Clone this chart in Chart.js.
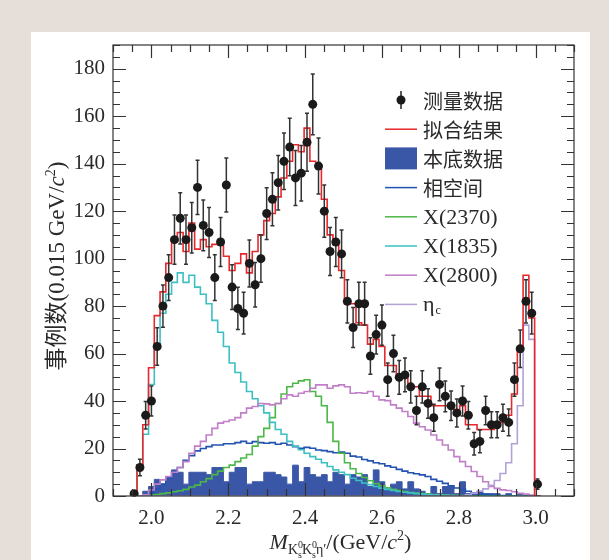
<!DOCTYPE html>
<html>
<head>
<meta charset="utf-8">
<script src="https://cdn.jsdelivr.net/npm/chart.js@4.4.0/dist/chart.umd.min.js"></script>
<style>
  html, body { margin: 0; padding: 0; background: #e6dfd9; }
  #panel { position: absolute; left: 31px; top: 32px; width: 559px; height: 528px; background: #fff; }
  #wrap { position: absolute; left: 0; top: 0; width: 609px; height: 560px; }
</style>
</head>
<body>
<div id="panel"></div>
<div id="wrap"><canvas id="histChart" width="609" height="560"></canvas></div>
<script>
// 0.015 GeV bins, first bin starts at 1.9475
const binStart = 1.9475;
const binWidth = 0.015;

const dataCounts = [
  1, 12, 34, 40, 63, 80, 92, 108, 117, 108,
  113, 130, 114, 111, 92, 107, 131, 88, 79, 77,
  98, 89, 100, 119, 125, 132, 141, 147, 134, 136,
  149, 165, 139, 120, 103, 107, 102, 82, 71, 81,
  81, 59, 68, 72, 49, 60, 50, 51, 46, 36,
  46, 39, 33, 47, 42, 38, 35, 40, 34, 22,
  23, 36, 30, 30, 33, 31, 49, 62, 82, 77,
  5
];
const dataErrors = [
  1, 3.5, 5.8, 6.3, 7.9, 8.9, 9.6, 10.4, 10.8, 10.4,
  10.6, 11.4, 10.7, 10.5, 9.6, 10.3, 11.4, 9.4, 8.9, 8.8,
  9.9, 9.4, 10, 10.9, 11.2, 11.5, 11.9, 12.1, 11.6, 11.7,
  12.2, 12.8, 11.8, 11, 10.1, 10.3, 10.1, 9.1, 8.4, 9,
  9, 7.7, 8.2, 8.5, 7, 7.7, 7.1, 7.1, 6.8, 6,
  6.8, 6.2, 5.7, 6.9, 6.5, 6.2, 5.9, 6.3, 5.8, 4.7,
  4.8, 6, 5.5, 5.5, 5.7, 5.6, 7, 7.9, 9.1, 8.8,
  2.2
];
const fitCounts = [
  0, 13, 30, 54, 76, 86, 98, 107, 111, 103,
  115, 104, 108, 105, 106, 108, 101, 95, 98, 102,
  94, 103, 110, 116, 119, 126, 134, 141, 148, 145,
  155, 141, 139, 125, 110, 106, 95, 81, 81, 73,
  72, 64, 66, 63, 55, 55, 50, 50, 46, 46,
  42, 42, 38, 38, 38, 38, 34, 38, 30, 30,
  28, 28, 28, 30, 31, 34, 43, 63, 93, 75,
  0
];
const bkgCounts = [
  0, 0, 2, 4, 7, 5, 8, 11, 10, 5,
  10, 10, 10, 9, 12, 12, 6, 10, 12, 12,
  5, 6, 6, 10, 10, 9, 8, 5, 13, 6,
  12, 9, 8, 9, 6, 10, 9, 5, 9, 8,
  9, 4, 11, 6, 3, 5, 6, 3, 6, 3,
  2, 1, 4, 1, 4, 4, 1, 6, 1, 1,
  2, 1, 1, 1, 0, 1, 0, 1, 0, 0,
  0
];
const phspCounts = [
  0, 0, 0.5, 1.1, 3, 5, 7.5, 10, 12, 15,
  17, 19, 20, 20.8, 21.5, 21.5, 22, 22, 22.5, 23,
  22.2, 22.9, 22.5, 22.2, 22.5, 21.8, 22.2, 21.5, 20.8, 20.1,
  20.5, 20.1, 19.4, 19.1, 18.7, 18.2, 18.5, 18, 16.8, 16.4,
  15.4, 14.8, 14, 13.6, 12.7, 12.1, 11.2, 10.5, 9.8, 9.4,
  8.9, 8.2, 7, 6.2, 5.3, 4.3, 3.4, 2.8, 2, 1.4,
  1, 0.7, 0.4, 0.3, 0.2, 0.1, 0, 0, 0, 0,
  0
];
const x2370Counts = [
  0, 0, 0, 0.3, 0.6, 1, 1.3, 1.8, 2.2, 2.8,
  3.8, 4.6, 6, 7.3, 9, 10.5, 12, 13, 14.5, 16,
  17.5, 21, 25, 28.5, 33, 39, 43, 46, 47.5, 48.5,
  49, 44, 42, 38, 31, 23, 18, 14, 11.5, 9.5,
  7.8, 6.4, 5.2, 4.3, 3.5, 2.8, 2.3, 1.9, 1.5, 1.2,
  1, 0.8, 0.6, 0.5, 0.4, 0.3, 0.2, 0.2, 0.1, 0.1,
  0.1, 0.1, 0, 0, 0, 0, 0, 0, 0, 0,
  0
];
const x1835Counts = [
  0, 12, 26, 47, 63, 77, 85, 90, 94, 90,
  93, 88, 85, 81, 74, 69, 63, 56, 52, 48,
  44, 41, 38, 35, 31, 28, 26, 23, 21, 19.5,
  18, 16.6, 15.5, 14, 12.4, 11, 10, 9, 7.5, 6.5,
  5.5, 4.8, 4, 3.3, 2.8, 2.3, 1.9, 1.6, 1.3, 1,
  0.8, 0.6, 0.5, 0.4, 0.3, 0.2, 0.2, 0.1, 0.1, 0,
  0, 0, 0, 0, 0, 0, 0, 0, 0, 0,
  0
];
const x2800Counts = [
  0, 0, 0.5, 2.5, 5, 6.8, 8.2, 10, 12, 14.5,
  18, 21, 23, 25.7, 28.5, 30.7, 31.4, 32, 33, 35,
  37, 37.7, 39, 38.8, 38.4, 39, 41, 42.6, 42, 43.3,
  44, 45.4, 46.8, 46.8, 45.4, 46.4, 46.8, 46, 43.3, 43.5,
  43.3, 44, 42, 40.5, 40.2, 38.4, 37, 35.6, 33.5, 30.7,
  29.2, 27.8, 25.7, 23.6, 21.5, 19.4, 16.6, 14.5, 12.4, 10.3,
  8.2, 6, 4, 3.2, 2.6, 2.3, 1.8, 1.1, 0.8, 0.4,
  0
];
const etacCounts = [
  0, 0, 0, 0, 0, 0, 0, 0, 0, 0,
  0, 0, 0, 0, 0, 0, 0, 0, 0, 0,
  0, 0, 0, 0, 0, 0, 0, 0, 0, 0,
  0, 0, 0, 0, 0, 0, 0, 0, 0, 0,
  0, 0, 0, 0, 0, 0, 0, 0, 0, 0,
  0, 0, 0, 0, 0, 0, 0, 0, 0.5, 1.2,
  2, 3, 4.5, 6.5, 9.5, 14, 22, 38, 72, 66,
  0
];

const xTickValues = [2.0, 2.2, 2.4, 2.6, 2.8, 3.0];
const yTickValues = [0, 20, 40, 60, 80, 100, 120, 140, 160, 180];

const legendLabels = ['测量数据', '拟合结果', '本底数据', '相空间', 'X(2370)', 'X(1835)', 'X(2800)', 'η'];
const colors = {
  data: '#1a1a1a',
  fit: '#e8282c',
  bkg: '#3a57a7',
  phsp: '#2352b0',
  x2370: '#4cb848',
  x1835: '#3cc0c4',
  x2800: '#c07fc8',
  etac: '#b3a2d8'
};

const serif = "'Liberation Serif', 'Noto Sans CJK SC', serif";
const textColor = '#2a2a2a';

function binCenter(i) { return binStart + binWidth * (i + 0.5); }

// step outline: points at bin low edges, closed back to 0 at both ends
function histPoints(counts) {
  const pts = [{ x: binStart, y: 0 }];
  counts.forEach((c, i) => pts.push({ x: binStart + binWidth * i, y: c }));
  pts.push({ x: binStart + binWidth * counts.length, y: 0 });
  return pts;
}

function histLine(label, counts, color) {
  return {
    label: label,
    data: histPoints(counts),
    stepped: 'before',
    borderColor: color,
    borderWidth: 1.6,
    pointRadius: 0,
    fill: false
  };
}

// error bars under the data points
const errorBarPlugin = {
  id: 'errorBars',
  beforeDatasetDraw(chart, args) {
    if (args.index !== 0) return;
    const { ctx, scales: { x, y } } = chart;
    ctx.save();
    ctx.strokeStyle = '#333';
    ctx.lineWidth = 1.5;
    dataCounts.forEach((n, i) => {
      const px = x.getPixelForValue(binCenter(i));
      const top = y.getPixelForValue(n + dataErrors[i]);
      const bot = y.getPixelForValue(Math.max(0, n - dataErrors[i]));
      ctx.beginPath();
      ctx.moveTo(px, top); ctx.lineTo(px, bot);
      ctx.moveTo(px - 2, top); ctx.lineTo(px + 2, top);
      ctx.moveTo(px - 2, bot); ctx.lineTo(px + 2, bot);
      ctx.stroke();
    });
    ctx.restore();
  }
};

function drawParts(ctx, parts, cx, cy) {
  let total = 0;
  parts.forEach(p => {
    ctx.font = p.font;
    p.w = ctx.measureText(p.t).width;
    if (p.adv !== false) total += p.w;
  });
  let x = cx - total / 2;
  parts.forEach(p => {
    ctx.font = p.font;
    ctx.fillText(p.t, x, cy + (p.dy || 0));
    if (p.adv !== false) x += p.w;
  });
}

// frame, inward ticks on four sides, axis titles, legend
const decorPlugin = {
  id: 'decor',
  afterDraw(chart) {
    const { ctx, chartArea: a, scales: { x, y } } = chart;
    ctx.save();
    ctx.strokeStyle = '#333';
    ctx.lineWidth = 1.2;
    ctx.strokeRect(a.left, a.top, a.right - a.left, a.bottom - a.top);

    ctx.beginPath();
    for (let k = 0; k <= 24; k++) {
      const v = 1.9 + k * 0.05;
      const major = xTickValues.some(t => Math.abs(t - v) < 1e-6);
      const len = major ? 13 : 7;
      const px = Math.round(x.getPixelForValue(v)) + 0.5;
      ctx.moveTo(px, a.bottom); ctx.lineTo(px, a.bottom - len);
      ctx.moveTo(px, a.top); ctx.lineTo(px, a.top + len);
    }
    for (let v = 0; v <= 190; v += 5) {
      const major = v % 20 === 0;
      const len = major ? 13 : 7;
      const py = Math.round(y.getPixelForValue(v)) + 0.5;
      ctx.moveTo(a.left, py); ctx.lineTo(a.left + len, py);
      ctx.moveTo(a.right, py); ctx.lineTo(a.right - len, py);
    }
    ctx.stroke();

    ctx.fillStyle = textColor;
    ctx.textBaseline = 'alphabetic';
    ctx.textAlign = 'left';

    // x title
    const big = "22px 'Liberation Serif', serif";
    const bigIt = "italic 22px 'Liberation Serif', serif";
    const sub = "14px 'Liberation Serif', serif";
    const tiny = "10px 'Liberation Serif', serif";
    drawParts(ctx, [
      { t: 'M', font: bigIt },
      { t: 'K', font: sub, dy: 5 },
      { t: '0', font: tiny, dy: -1, adv: false },
      { t: 's', font: tiny, dy: 9 },
      { t: 'K', font: sub, dy: 5 },
      { t: '0', font: tiny, dy: -1, adv: false },
      { t: 's', font: tiny, dy: 9 },
      { t: 'η′', font: sub, dy: 5 },
      { t: '/(GeV/', font: big },
      { t: 'c', font: bigIt },
      { t: '2', font: sub, dy: -9 },
      { t: ')', font: big }
    ], (a.left + a.right) / 2 - 3, 549);

    // y title
    ctx.save();
    ctx.translate(64, 266);
    ctx.rotate(-Math.PI / 2);
    drawParts(ctx, [
      { t: '事例数', font: "23px 'Noto Sans CJK SC', sans-serif" },
      { t: '(0.015 GeV/', font: "23px 'Liberation Serif', serif" },
      { t: 'c', font: "italic 23px 'Liberation Serif', serif" },
      { t: '2', font: "14px 'Liberation Serif', serif", dy: -9 },
      { t: ')', font: "23px 'Liberation Serif', serif" }
    ], 0, 0);
    ctx.restore();

    // legend
    const lx1 = a.left + 272, lx2 = a.left + 304, tx = a.left + 310;
    const rowY = k => a.top + 55 + k * 29.2;
    const lineColors = [null, colors.fit, null, colors.phsp, colors.x2370, colors.x1835, colors.x2800, colors.etac];
    legendLabels.forEach((lab, k) => {
      const yy = rowY(k);
      if (k === 0) {
        ctx.strokeStyle = '#222';
        ctx.lineWidth = 1.5;
        ctx.beginPath();
        ctx.moveTo((lx1 + lx2) / 2, yy - 9); ctx.lineTo((lx1 + lx2) / 2, yy + 9);
        ctx.stroke();
        ctx.fillStyle = colors.data;
        ctx.beginPath();
        ctx.arc((lx1 + lx2) / 2, yy, 4.5, 0, Math.PI * 2);
        ctx.fill();
      } else if (k === 2) {
        ctx.fillStyle = colors.bkg;
        ctx.fillRect(lx1, yy - 11, lx2 - lx1, 22);
      } else {
        ctx.strokeStyle = lineColors[k];
        ctx.lineWidth = 1.5;
        ctx.beginPath();
        ctx.moveTo(lx1, yy); ctx.lineTo(lx2, yy);
        ctx.stroke();
      }
      ctx.fillStyle = textColor;
      ctx.textBaseline = 'middle';
      ctx.font = /[\u4e00-\u9fff]/.test(lab) ? "20px 'Noto Sans CJK SC', sans-serif" : big;
      ctx.fillText(lab, tx, yy + 1);
      if (k === 7) {
        const w = ctx.measureText(lab).width;
        ctx.font = "12px 'Liberation Serif', serif";
        ctx.fillText('c', tx + w + 1, yy + 6);
      }
    });
    ctx.restore();
  }
};

const ctx = document.getElementById('histChart').getContext('2d');
const histChart = new Chart(ctx, {
  type: 'line',
  data: {
    datasets: [
      {
        label: legendLabels[0],
        data: dataCounts.map((n, i) => ({ x: binCenter(i), y: n })),
        showLine: false,
        pointRadius: 4.5,
        pointBackgroundColor: colors.data,
        pointBorderWidth: 0
      },
      histLine(legendLabels[1], fitCounts, colors.fit),
      histLine(legendLabels[7], etacCounts, colors.etac),
      histLine(legendLabels[6], x2800Counts, colors.x2800),
      histLine(legendLabels[5], x1835Counts, colors.x1835),
      histLine(legendLabels[4], x2370Counts, colors.x2370),
      histLine(legendLabels[3], phspCounts, colors.phsp),
      {
        label: legendLabels[2],
        data: histPoints(bkgCounts),
        stepped: 'before',
        borderColor: colors.bkg,
        backgroundColor: colors.bkg,
        borderWidth: 1,
        pointRadius: 0,
        fill: 'origin'
      }
    ]
  },
  options: {
    responsive: false,
    animation: false,
    layout: { padding: { left: 53, right: 35, top: 45, bottom: 30 } },
    plugins: { legend: { display: false }, tooltip: { enabled: false } },
    scales: {
      x: {
        type: 'linear',
        min: 1.9,
        max: 3.1,
        grid: { display: false, drawTicks: false },
        border: { display: false },
        afterBuildTicks: s => { s.ticks = xTickValues.map(v => ({ value: v })); },
        afterFit: s => { s.height = 34; },
        ticks: {
          padding: 10,
          autoSkip: false,
          maxRotation: 0,
          color: textColor,
          font: { family: serif, size: 21 },
          callback: v => Number(v).toFixed(1)
        }
      },
      y: {
        min: 0,
        max: 190,
        grid: { display: false, drawTicks: false },
        border: { display: false },
        afterBuildTicks: s => { s.ticks = yTickValues.map(v => ({ value: v })); },
        afterFit: s => { s.width = 60; },
        ticks: {
          padding: 8,
          color: textColor,
          font: { family: serif, size: 21 },
          callback: v => String(v)
        }
      }
    }
  },
  plugins: [errorBarPlugin, decorPlugin]
});
</script>
</body>
</html>
